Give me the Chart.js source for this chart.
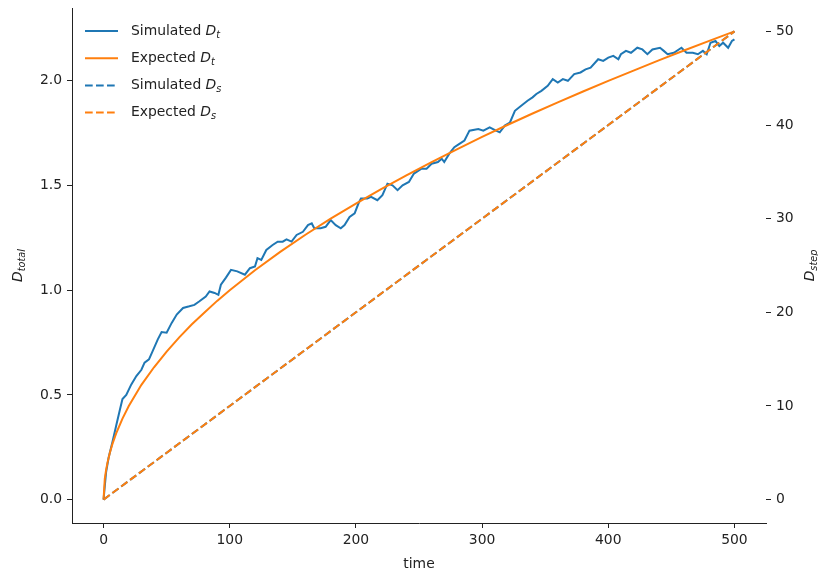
<!DOCTYPE html>
<html>
<head>
<meta charset="utf-8">
<script src="https://cdn.jsdelivr.net/npm/chart.js@4.4.0/dist/chart.umd.min.js"></script>
<style>
  html, body { margin: 0; padding: 0; background: #fff; }
  #wrap { width: 818px; height: 574px; }
</style>
</head>
<body>
<div id="wrap"><canvas id="chart" width="818" height="574"></canvas></div>
<script>
// simulated total displacement (left axis)
const simTime = [0, 2, 4, 7, 10, 13, 15, 18, 22, 26, 30, 32.5, 36, 39, 43, 46, 50, 54, 58, 63, 68, 72, 76, 81, 84, 88, 91, 93, 97,
  101, 106, 112, 116, 120, 122, 125, 129, 134, 138, 142, 145, 149, 153, 158, 162, 165, 167, 172, 176, 180, 184, 188, 191, 195, 199,
  202, 204, 209, 212, 217, 221, 225, 229, 233, 237, 242, 246, 252, 256, 260, 265, 268, 270, 274, 278, 282, 286, 290, 297,
  301, 306, 311, 314, 318, 322, 326, 331, 336, 340, 343, 347, 352, 356, 360, 364, 368, 373, 378, 382, 386, 392, 396,
  400, 404, 408, 410, 414, 418, 423, 427, 431, 435, 441, 444, 447, 452, 458, 462, 467, 471, 475, 478, 481, 485, 488, 491, 495, 498, 500];
const simTotal = [0, 0.13, 0.2, 0.274, 0.353, 0.43, 0.48, 0.5, 0.55, 0.59, 0.62, 0.654, 0.67, 0.71, 0.765, 0.8, 0.797, 0.844, 0.884, 0.915, 0.923, 0.93, 0.947, 0.97, 0.994, 0.987, 0.978, 1.026, 1.06,
  1.097, 1.09, 1.074, 1.105, 1.113, 1.153, 1.145, 1.192, 1.216, 1.232, 1.232, 1.243, 1.232, 1.264, 1.279, 1.311, 1.319, 1.296, 1.296, 1.303, 1.335, 1.311, 1.296, 1.311, 1.35, 1.367,
  1.414, 1.438, 1.438, 1.446, 1.43, 1.454, 1.509, 1.501, 1.478, 1.501, 1.517, 1.557, 1.58, 1.58, 1.604, 1.612, 1.628, 1.612, 1.652, 1.683, 1.699, 1.715, 1.762, 1.77,
  1.762, 1.778, 1.762, 1.754, 1.786, 1.8, 1.857, 1.881, 1.905, 1.921, 1.937, 1.952, 1.976, 2.008, 1.992, 2.008, 2.0, 2.032, 2.04, 2.055, 2.063, 2.103, 2.095,
  2.111, 2.119, 2.103, 2.127, 2.143, 2.134, 2.158, 2.15, 2.127, 2.15, 2.158, 2.143, 2.127, 2.134, 2.158, 2.134, 2.134, 2.127, 2.143, 2.127, 2.182, 2.19, 2.166, 2.182, 2.158, 2.19, 2.198];

// expected total displacement
const expTime = [0, 1, 2, 3, 5, 7, 10, 15, 20, 30, 40, 50, 60, 70, 80, 90, 100, 120, 140, 160, 180, 200,
  220, 240, 260, 280, 300, 320, 340, 360, 380, 400, 420, 440, 460, 480, 500];
const expTotal = [0, 0.1, 0.141, 0.173, 0.224, 0.265, 0.316, 0.387, 0.447, 0.548, 0.632, 0.707, 0.775, 0.837, 0.894, 0.949, 1.0, 1.095, 1.183, 1.265, 1.342, 1.414,
  1.483, 1.549, 1.612, 1.673, 1.732, 1.789, 1.844, 1.897, 1.949, 2.0, 2.049, 2.098, 2.145, 2.191, 2.236];

// step displacement (right axis)
const stepTime = [0, 100, 200, 300, 400, 500];
const simStep = [0, 10, 20, 30, 40, 50];
const expStep = [0, 10, 20, 30, 40, 50];

const timeTicks = [0, 100, 200, 300, 400, 500];
const totalTicks = [0, 0.5, 1.0, 1.5, 2.0];
const stepTicks = [0, 10, 20, 30, 40, 50];

const BLUE = '#1f77b4';
const ORANGE = '#ff7f0e';
const INK = '#222';
const FONT = 'DejaVu Sans';
const FS = 13.9;

const pairs = (xs, ys) => xs.map((x, i) => ({ x: x, y: ys[i] }));

// draws "Name D_sub" with italic D and a subscript, starting at x
const drawMath = (ctx, x, y, name, sub) => {
    ctx.textBaseline = 'middle';
    ctx.textAlign = 'left';
    ctx.fillStyle = INK;
    let cx = x;
    if (name) {
        ctx.font = `${FS}px "${FONT}"`;
        ctx.fillText(name + ' ', cx, y);
        cx += ctx.measureText(name + ' ').width;
    }
    ctx.font = `oblique ${FS}px "${FONT}"`;
    ctx.fillText('D', cx, y);
    cx += ctx.measureText('D').width;
    ctx.font = `oblique ${FS * 0.7}px "${FONT}"`;
    ctx.fillText(sub, cx, y + 4);
    cx += ctx.measureText(sub).width;
    return cx - x;
};

const mathWidth = (ctx, sub) => {
    ctx.font = `oblique ${FS}px "${FONT}"`;
    let w = ctx.measureText('D').width;
    ctx.font = `oblique ${FS * 0.7}px "${FONT}"`;
    return w + ctx.measureText(sub).width;
};

const annotations = {
    id: 'annotations',
    afterDraw: (chart) => {
        const ctx = chart.ctx;
        const area = chart.chartArea;
        ctx.save();

        // legend
        chart.data.datasets.forEach((ds, i) => {
            const y = 31 + i * 27.2;
            ctx.beginPath();
            ctx.strokeStyle = ds.borderColor;
            ctx.lineWidth = 2;
            ctx.setLineDash(ds.borderDash || []);
            ctx.moveTo(85, y);
            ctx.lineTo(118, y);
            ctx.stroke();
            ctx.setLineDash([]);
            drawMath(ctx, 131, y, ds.mathName, ds.mathSub);
        });

        // x title
        ctx.font = `${FS}px "${FONT}"`;
        ctx.fillStyle = INK;
        ctx.textAlign = 'center';
        ctx.textBaseline = 'middle';
        ctx.fillText('time', (area.left + area.right) / 2, 564);

        // rotated y titles
        const midY = (area.top + area.bottom) / 2;
        [[18, 'total'], [810, 'step']].forEach(([x, sub]) => {
            ctx.save();
            ctx.translate(x, midY);
            ctx.rotate(-Math.PI / 2);
            const w = mathWidth(ctx, sub);
            drawMath(ctx, -w / 2, 0, '', sub);
            ctx.restore();
        });
        ctx.restore();
    }
};

const tickGrid = { display: true, drawOnChartArea: false, drawTicks: true, tickLength: 5, color: INK, lineWidth: 1 };
const tickFont = { family: FONT, size: FS };

new Chart(document.getElementById('chart'), {
    type: 'line',
    data: {
        datasets: [
            { label: 'Simulated D_t', mathName: 'Simulated', mathSub: 't', data: pairs(simTime, simTotal), yAxisID: 'yTotal',
              borderColor: BLUE, borderWidth: 2, pointRadius: 0, order: 4 },
            { label: 'Expected D_t', mathName: 'Expected', mathSub: 't', data: pairs(expTime, expTotal), yAxisID: 'yTotal',
              borderColor: ORANGE, borderWidth: 2, pointRadius: 0, order: 3 },
            { label: 'Simulated D_s', mathName: 'Simulated', mathSub: 's', data: pairs(stepTime, simStep), yAxisID: 'yStep',
              borderColor: BLUE, borderWidth: 2, pointRadius: 0, borderDash: [7.7, 3.3], order: 2 },
            { label: 'Expected D_s', mathName: 'Expected', mathSub: 's', data: pairs(stepTime, expStep), yAxisID: 'yStep',
              borderColor: ORANGE, borderWidth: 2, pointRadius: 0, borderDash: [7.7, 3.3], order: 1 }
        ]
    },
    options: {
        responsive: false,
        animation: false,
        devicePixelRatio: 1,
        layout: { padding: { top: 8, left: 0, right: 0, bottom: 0 } },
        plugins: { legend: { display: false }, tooltip: { enabled: false } },
        scales: {
            x: {
                type: 'linear', min: -25, max: 525,
                afterBuildTicks: (s) => { s.ticks = timeTicks.map(v => ({ value: v })); },
                afterFit: (s) => { s.height = 51; s.paddingLeft = 0; s.paddingRight = 0; },
                ticks: { color: INK, font: tickFont, padding: 4, maxRotation: 0, autoSkip: false, callback: (v) => String(v) },
                grid: tickGrid,
                border: { display: true, color: INK, width: 1 }
            },
            yTotal: {
                type: 'linear', position: 'left', min: -0.1118, max: 2.3478,
                afterBuildTicks: (s) => { s.ticks = totalTicks.map(v => ({ value: v })); },
                afterFit: (s) => { s.width = 72; s.paddingTop = 0; s.paddingBottom = 0; },
                ticks: { color: INK, font: tickFont, padding: 5, autoSkip: false, callback: (v) => v.toFixed(1) },
                grid: tickGrid,
                border: { display: true, color: INK, width: 1 }
            },
            yStep: {
                type: 'linear', position: 'right', min: -2.5, max: 52.5,
                afterBuildTicks: (s) => { s.ticks = stepTicks.map(v => ({ value: v })); },
                afterFit: (s) => { s.width = 52; s.paddingTop = 0; s.paddingBottom = 0; },
                ticks: { color: INK, font: tickFont, padding: 5, autoSkip: false, callback: (v) => String(v) },
                grid: tickGrid,
                border: { display: false }
            }
        }
    },
    plugins: [annotations]
});
</script>
</body>
</html>
